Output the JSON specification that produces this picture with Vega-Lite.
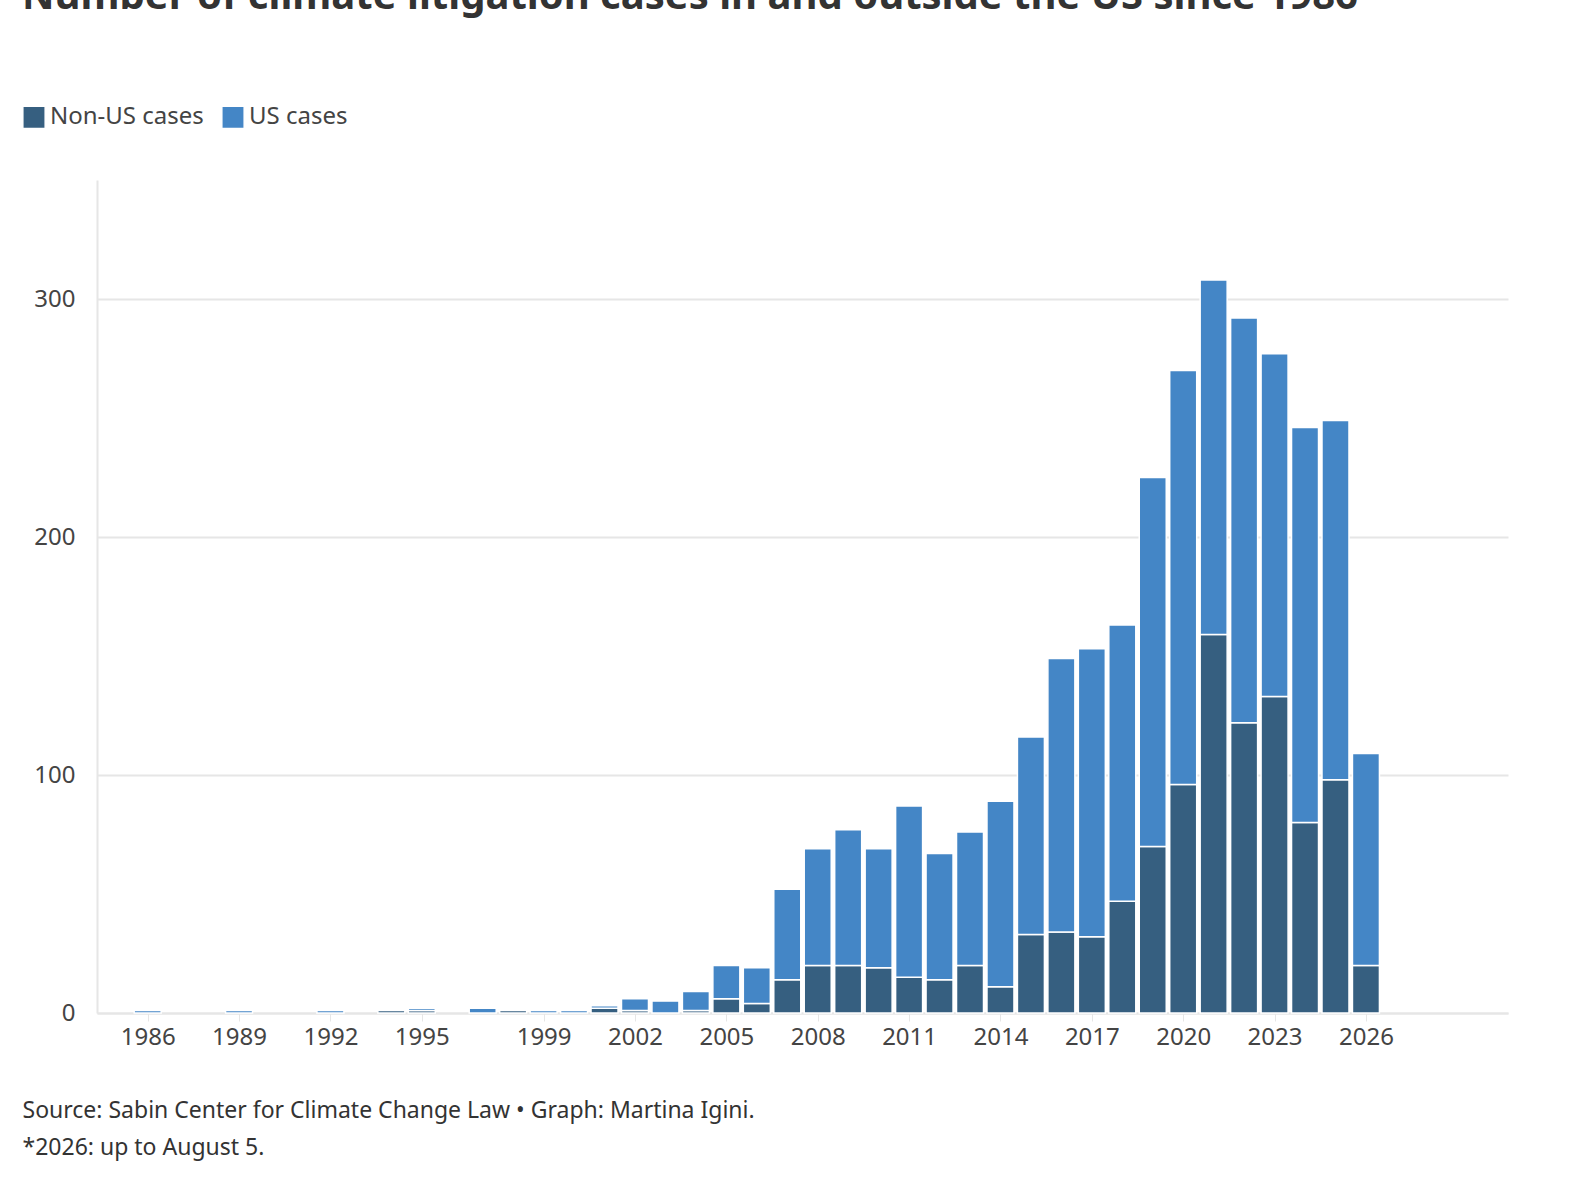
{
"$schema":"https://vega.github.io/schema/vega-lite/v6.json",
"autosize":"none","width":1411,"height":833,
"padding":{"left":97,"top":180,"right":80,"bottom":189},
"background":"white",
"config":{"view":{"stroke":null}},
"title":{"text":"Number of climate litigation cases in and outside the US since 1986","anchor":"start","frame":"group","dx":-75,"offset":88,"fontSize":40,"fontWeight":"bold","color":"#333333","font":"Noto Sans"},
"data":{"values":[
{"year":1986,"t":"US cases","v":1},{"year":1989,"t":"US cases","v":1},{"year":1992,"t":"US cases","v":1},
{"year":1994,"t":"Non-US cases","v":1},
{"year":1995,"t":"Non-US cases","v":1},{"year":1995,"t":"US cases","v":1},
{"year":1997,"t":"US cases","v":2},
{"year":1998,"t":"Non-US cases","v":1},
{"year":1999,"t":"US cases","v":1},{"year":2000,"t":"US cases","v":1},
{"year":2001,"t":"Non-US cases","v":2},{"year":2001,"t":"US cases","v":1},
{"year":2002,"t":"Non-US cases","v":1},{"year":2002,"t":"US cases","v":5},
{"year":2003,"t":"US cases","v":5},
{"year":2004,"t":"Non-US cases","v":1},{"year":2004,"t":"US cases","v":8},
{"year":2005,"t":"Non-US cases","v":6},{"year":2005,"t":"US cases","v":14},
{"year":2006,"t":"Non-US cases","v":4},{"year":2006,"t":"US cases","v":15},
{"year":2007,"t":"Non-US cases","v":14},{"year":2007,"t":"US cases","v":38},
{"year":2008,"t":"Non-US cases","v":20},{"year":2008,"t":"US cases","v":49},
{"year":2009,"t":"Non-US cases","v":20},{"year":2009,"t":"US cases","v":57},
{"year":2010,"t":"Non-US cases","v":19},{"year":2010,"t":"US cases","v":50},
{"year":2011,"t":"Non-US cases","v":15},{"year":2011,"t":"US cases","v":72},
{"year":2012,"t":"Non-US cases","v":14},{"year":2012,"t":"US cases","v":53},
{"year":2013,"t":"Non-US cases","v":20},{"year":2013,"t":"US cases","v":56},
{"year":2014,"t":"Non-US cases","v":11},{"year":2014,"t":"US cases","v":78},
{"year":2015,"t":"Non-US cases","v":33},{"year":2015,"t":"US cases","v":83},
{"year":2016,"t":"Non-US cases","v":34},{"year":2016,"t":"US cases","v":115},
{"year":2017,"t":"Non-US cases","v":32},{"year":2017,"t":"US cases","v":121},
{"year":2018,"t":"Non-US cases","v":47},{"year":2018,"t":"US cases","v":116},
{"year":2019,"t":"Non-US cases","v":70},{"year":2019,"t":"US cases","v":155},
{"year":2020,"t":"Non-US cases","v":96},{"year":2020,"t":"US cases","v":174},
{"year":2021,"t":"Non-US cases","v":159},{"year":2021,"t":"US cases","v":149},
{"year":2022,"t":"Non-US cases","v":122},{"year":2022,"t":"US cases","v":170},
{"year":2023,"t":"Non-US cases","v":133},{"year":2023,"t":"US cases","v":144},
{"year":2024,"t":"Non-US cases","v":80},{"year":2024,"t":"US cases","v":166},
{"year":2025,"t":"Non-US cases","v":98},{"year":2025,"t":"US cases","v":151},
{"year":2026,"t":"Non-US cases","v":20},{"year":2026,"t":"US cases","v":89}
]},
"mark":{"type":"bar","width":27,"stroke":"white","strokeWidth":1.5},
"encoding":{
"x":{"field":"year","type":"quantitative","scale":{"domain":[1984.5,2030.5],"nice":false,"zero":false},
 "axis":{"values":[1986,1989,1992,1995,1999,2002,2005,2008,2011,2014,2017,2020,2023,2026],"format":"d","grid":false,"domainColor":"#e6e6e6","domainWidth":2,"tickColor":"#e6e6e6","tickSize":8,"labelFontSize":24,"labelColor":"#444","labelFont":"Noto Sans","labelPadding":4,
 "title":["Source: Sabin Center for Climate Change Law • Graph: Martina Igini.","*2026: up to August 5."],"titleFont":"Noto Sans","titleFontSize":23,"titleFontWeight":"normal","titleColor":"#333","titleAnchor":"start","titleAlign":"left","titleX":-75,"titleY":86,"titleLineHeight":37,"titleBaseline":"top"}},
"y":{"field":"v","type":"quantitative","aggregate":"sum","scale":{"domain":[0,350],"nice":false},
 "axis":{"values":[0,100,200,300],"title":null,"domainColor":"#e6e6e6","domainWidth":2,"ticks":false,"gridColor":"#e6e6e6","gridWidth":2,"labelFontSize":24,"labelColor":"#444","labelFont":"Noto Sans","labelPadding":22}},
"color":{"field":"t","type":"nominal","scale":{"domain":["Non-US cases","US cases"],"range":["#365f80","#4486c6"]},
 "legend":{"title":null,"orient":"none","legendX":-75,"legendY":-75,"direction":"horizontal","symbolType":"square","symbolSize":500,"labelFontSize":24,"labelFont":"Noto Sans","labelColor":"#444","columnPadding":14}},
"order":{"field":"t","sort":"ascending"}
}
}
